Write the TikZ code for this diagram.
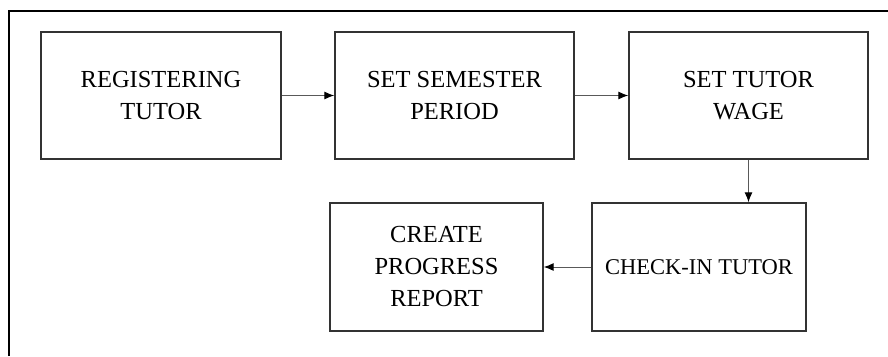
\documentclass[tikz,border=0pt]{standalone}
\usepackage{fontspec}
\setmainfont{Liberation Serif}
\usetikzlibrary{arrows.meta}
\tikzset{
stepbox/.style={draw=black!80, line width=1.4pt, minimum width=240pt,
  minimum height=127pt, align=center, inner sep=0pt,
  font=\fontsize{24.5}{32}\selectfont},
flow/.style={draw=black!65, line width=1pt, -{Latex[length=10pt,width=8pt,black]}}
}

\begin{document}
\begin{tikzpicture}[x=1pt, y=-1pt]
  \useasboundingbox (0,0) rectangle (888,356);
  % frame
  \draw[line width=2pt] (9,356) -- (9,11) -- (888,11);

  \node[stepbox] (reg) at (161,95.5) {REGISTERING\\TUTOR};
  \node[stepbox, minimum width=239pt] (sem) at (454.5,95.5) {SET SEMESTER\\PERIOD};
  \node[stepbox, minimum width=239pt] (wage) at (748.5,95.5) {SET TUTOR\\WAGE};
  \node[stepbox, minimum width=214pt, minimum height=128pt,
    font=\fontsize{22.5}{32}\selectfont] (check) at (699,267) {CHECK-IN TUTOR};
  \node[stepbox, minimum width=213pt, minimum height=128pt] (rep) at (436.5,267) {CREATE\\PROGRESS\\REPORT};

  \draw[flow] (reg.east) -- (sem.west);
  \draw[flow] (sem.east) -- (wage.west);
  \draw[flow] (wage.south) -- (wage.south |- check.north);
  \draw[flow] (check.west) -- (rep.east);
\end{tikzpicture}
\end{document}
